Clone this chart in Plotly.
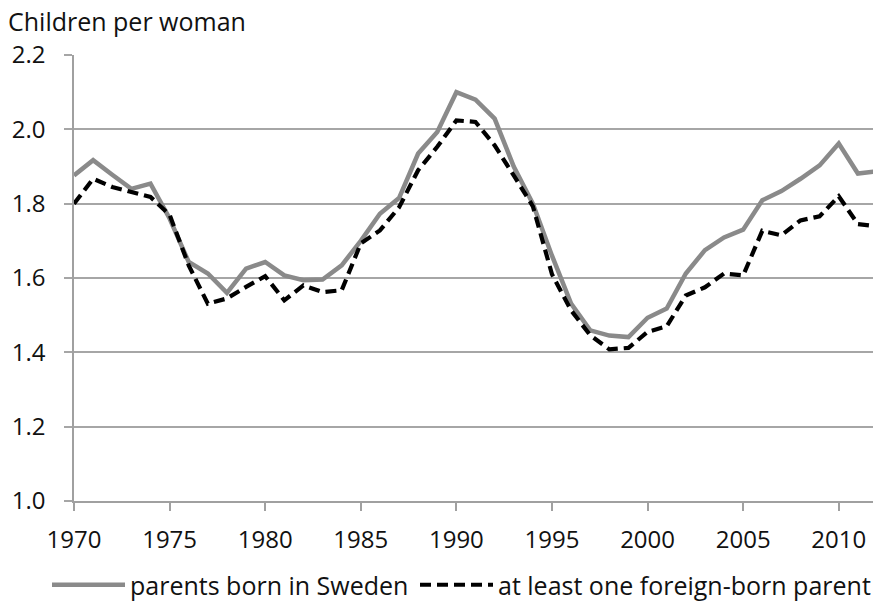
import plotly.graph_objects as go

years = list(range(1970, 2013))

sweden = [1.876, 1.917, 1.878, 1.840, 1.854, 1.760, 1.643, 1.612, 1.560, 1.625,
          1.643, 1.607, 1.594, 1.596, 1.634, 1.700, 1.773, 1.815, 1.935, 1.993,
          2.100, 2.080, 2.029, 1.900, 1.800, 1.660, 1.531, 1.459, 1.445, 1.441,
          1.493, 1.518, 1.612, 1.675, 1.709, 1.730, 1.809, 1.834, 1.867, 1.903,
          1.962, 1.881, 1.887]

foreign = [1.800, 1.867, 1.845, 1.832, 1.818, 1.770, 1.634, 1.531, 1.545, 1.576,
           1.605, 1.540, 1.580, 1.562, 1.567, 1.693, 1.728, 1.790, 1.890, 1.953,
           2.024, 2.020, 1.957, 1.876, 1.793, 1.610, 1.513, 1.446, 1.408, 1.412,
           1.455, 1.470, 1.553, 1.575, 1.612, 1.607, 1.727, 1.715, 1.755, 1.766,
           1.820, 1.745, 1.739]

y_ticks = [1.0, 1.2, 1.4, 1.6, 1.8, 2.0, 2.2]
x_ticks = [1970, 1975, 1980, 1985, 1990, 1995, 2000, 2005, 2010]

series_names = ["parents born in Sweden", "at least one foreign-born parent"]
y_title = "Children per woman"

FONT = "Open Sans"
TXT = "#111111"

# page body has an 8px margin, so the figure is sized to end at the window edge
W, H = 873, 594
L, R, T, B = 66, 4, 47, 101
PW, PH = W - L - R, H - T - B

fig = go.Figure()
fig.add_trace(go.Scatter(
    x=years, y=sweden, mode="lines", name=series_names[0],
    line=dict(color="#8a8a8a", width=4.5), legendwidth=280,
))
fig.add_trace(go.Scatter(
    x=years, y=foreign, mode="lines", name=series_names[1],
    line=dict(color="#000000", width=4.2, dash="11px,6px"),
))

fig.update_layout(
    width=W, height=H,
    paper_bgcolor="white", plot_bgcolor="white",
    margin=dict(l=L, r=R, t=T, b=B, autoexpand=False),
    font=dict(family=FONT, size=24, color=TXT),
    showlegend=True,
    legend=dict(orientation="h", xref="paper", yref="paper",
                x=(39 - L) / PW, y=-(577 - (T + PH)) / PH,
                xanchor="left", yanchor="middle",
                itemwidth=73,
                font=dict(family=FONT, size=25, color=TXT),
                tracegroupgap=0, bgcolor="rgba(0,0,0,0)"),
    title=dict(text=y_title, xref="container", yref="container",
               x=0, y=1 - 14 / H, xanchor="left", yanchor="middle",
               pad=dict(l=0, r=0, t=0, b=0),
               font=dict(family=FONT, size=25, color=TXT)),
)

fig.update_xaxes(
    range=[1970, 2012], tickvals=x_ticks, ticktext=[str(v) for v in x_ticks],
    showgrid=False, zeroline=False, automargin=False,
    showline=True, linecolor="#a0a0a0", linewidth=1.5,
    ticks="outside", ticklen=8, tickcolor="#a0a0a0", tickwidth=1.5,
    ticklabelstandoff=8,
    tickfont=dict(family=FONT, size=24, color=TXT),
)
fig.update_yaxes(
    range=[1.0, 2.2], tickvals=y_ticks, ticktext=[f"{v:.1f}" for v in y_ticks],
    showgrid=True, gridcolor="#a6a6a6", gridwidth=1.5, zeroline=False, automargin=False,
    showline=True, linecolor="#a0a0a0", linewidth=1.5, mirror=True,
    ticks="outside", ticklen=8, tickcolor="#a6a6a6", tickwidth=1.5,
    ticklabelstandoff=14,
    tickfont=dict(family=FONT, size=24, color=TXT),
)

fig.write_html("out.html")
